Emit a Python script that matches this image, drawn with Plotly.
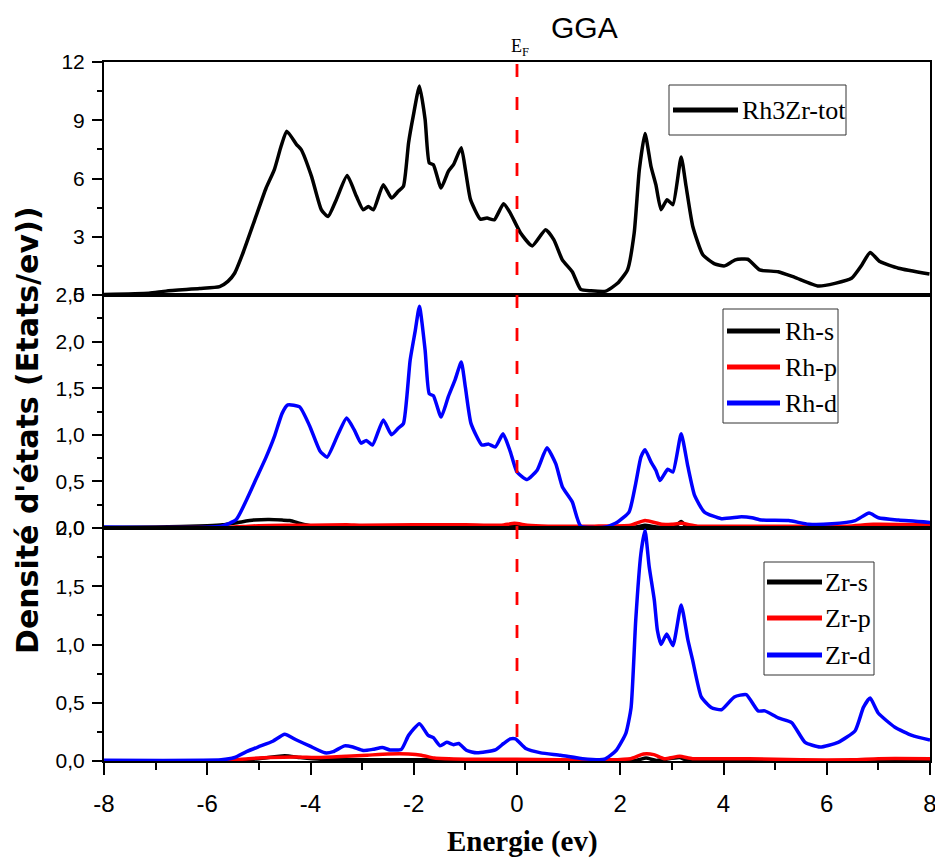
import plotly.graph_objects as go

# ---------------- data ----------------
e_tot = [-8.0, -7.13, -6.80, -6.15, -5.76, -5.6, -5.47, -5.31, -5.08, -4.86, -4.70, -4.57, -4.46,
         -4.27, -4.18, -3.98, -3.79, -3.66, -3.50, -3.29, -3.11, -2.98, -2.88, -2.78, -2.59, -2.43,
         -2.30, -2.20, -2.10, -2.01, -1.89, -1.78, -1.70, -1.62, -1.47, -1.33, -1.23, -1.08, -1.00,
         -0.90, -0.71, -0.58, -0.44, -0.26, -0.13, 0.07, 0.295, 0.554, 0.715, 0.878, 1.07, 1.234,
         1.43, 1.72, 1.947, 2.14, 2.27, 2.37, 2.48, 2.595, 2.69, 2.79, 2.906, 3.02, 3.18, 3.275,
         3.405, 3.60, 3.83, 4.02, 4.23, 4.47, 4.70, 5.06, 5.38, 5.84, 6.16, 6.48, 6.68, 6.84, 7.03,
         7.39, 7.99]
dos_tot = [0.03, 0.09, 0.2, 0.33, 0.43, 0.7, 1.12, 2.15, 3.87, 5.51, 6.46, 7.66, 8.44,
           7.75, 7.49, 6.11, 4.39, 4.04, 4.91, 6.15, 5.08, 4.39, 4.56, 4.39, 5.68, 4.99,
           5.34, 5.60, 7.84, 9.21, 10.76, 9.04, 6.80, 6.71, 5.51, 6.37, 6.71, 7.58, 6.46,
           4.91, 3.91, 3.96, 3.87, 4.70, 4.22, 3.19, 2.53, 3.36, 2.84, 1.81, 1.20, 0.29,
           0.22, 0.2, 0.6, 1.29, 3.19, 6.46, 8.32, 6.63, 5.68, 4.39, 4.91, 4.65, 7.11, 5.6,
           3.53, 2.07, 1.60, 1.50, 1.81, 1.84, 1.29, 1.20, 0.91, 0.46, 0.6, 0.86, 1.55, 2.19, 1.72,
           1.38, 1.08]

e_rh_d = [-8.0, -5.73, -5.44, -5.24, -5.05, -4.86, -4.70, -4.55, -4.44, -4.21, -4.02, -3.82, -3.68,
          -3.47, -3.30, -3.15, -3.02, -2.92, -2.80, -2.59, -2.43, -2.30, -2.20, -2.07, -1.97, -1.89,
          -1.78, -1.70, -1.62, -1.47, -1.33, -1.20, -1.08, -1.00, -0.89, -0.68, -0.55, -0.42, -0.27,
          -0.13, 0.0, 0.197, 0.39, 0.58, 0.75, 0.88, 1.07, 1.234, 1.72, 1.95, 2.17, 2.30, 2.40,
          2.48, 2.595, 2.69, 2.77, 2.92, 3.02, 3.18, 3.31, 3.44, 3.63, 3.96, 4.35, 4.55, 4.74,
          5.26, 5.65, 6.10, 6.55, 6.82, 7.0, 7.39, 8.0]
rh_d = [0.01, 0.02, 0.09, 0.30, 0.53, 0.76, 0.98, 1.23, 1.32, 1.30, 1.10, 0.83, 0.76,
        1.00, 1.18, 1.05, 0.91, 0.94, 0.89, 1.16, 1.00, 1.07, 1.12, 1.80, 2.12, 2.38,
        1.91, 1.44, 1.42, 1.19, 1.41, 1.59, 1.78, 1.51, 1.12, 0.89, 0.90, 0.87, 1.01,
        0.82, 0.60, 0.52, 0.62, 0.86, 0.69, 0.44, 0.28, 0.02, 0.01, 0.065, 0.17, 0.48, 0.76,
        0.84, 0.71, 0.62, 0.51, 0.63, 0.60, 1.01, 0.66, 0.35, 0.17, 0.10, 0.12, 0.11, 0.085,
        0.08, 0.04, 0.045, 0.08, 0.16, 0.11, 0.085, 0.06]

e_rh_s = [-8.0, -7.0, -6.0, -5.7, -5.4, -5.1, -4.8, -4.55, -4.4, -4.2, -4.0, -3.5, -2.0, -0.2, 0.0,
          0.3, 1.5, 2.3, 2.48, 2.7, 3.05, 3.18, 3.3, 4.0, 8.0]
rh_s = [0.005, 0.01, 0.025, 0.035, 0.06, 0.085, 0.09, 0.085, 0.08, 0.05, 0.025, 0.015, 0.01, 0.01, 0.02,
        0.01, 0.005, 0.01, 0.03, 0.01, 0.01, 0.07, 0.01, 0.005, 0.005]

e_rh_p = [-8.0, -5.7, -5.3, -5.0, -4.5, -4.0, -3.3, -3.0, -2.0, -1.0, -0.3, -0.05, 0.2, 0.6, 1.5,
          2.2, 2.48, 2.8, 3.0, 3.18, 3.5, 4.5, 6.4, 6.9, 8.0]
rh_p = [0.003, 0.005, 0.015, 0.025, 0.03, 0.03, 0.035, 0.03, 0.035, 0.035, 0.03, 0.05, 0.03, 0.02, 0.02,
        0.03, 0.08, 0.04, 0.04, 0.05, 0.02, 0.02, 0.02, 0.04, 0.035]

e_zr_d = [-8.0, -5.73, -5.47, -5.24, -5.02, -4.73, -4.50, -4.27, -4.02, -3.72, -3.56, -3.34, -3.18,
          -2.98, -2.79, -2.61, -2.46, -2.24, -2.10, -1.89, -1.72, -1.62, -1.49, -1.36, -1.23, -1.13,
          -0.97, -0.78, -0.42, -0.26, -0.13, -0.03, 0.17, 0.46, 0.846, 1.27, 1.69, 1.92, 2.11, 2.21,
          2.30, 2.40, 2.48, 2.56, 2.66, 2.72, 2.79, 2.90, 3.02, 3.18, 3.31, 3.40, 3.57, 3.76, 3.96,
          4.21, 4.44, 4.67, 4.80, 5.06, 5.32, 5.58, 5.87, 6.22, 6.55, 6.71, 6.84, 7.0, 7.32, 7.65, 8.0]
zr_d = [0.006, 0.01, 0.03, 0.08, 0.12, 0.17, 0.23, 0.18, 0.13, 0.07, 0.08, 0.13, 0.12,
        0.09, 0.10, 0.116, 0.095, 0.10, 0.22, 0.32, 0.22, 0.20, 0.13, 0.16, 0.14, 0.15,
        0.09, 0.07, 0.095, 0.15, 0.19, 0.19, 0.107, 0.07, 0.05, 0.02, 0.015, 0.09, 0.24, 0.46,
        1.21, 1.78, 1.98, 1.67, 1.38, 1.12, 1.00, 1.09, 0.99, 1.34, 1.04, 0.87, 0.55, 0.46, 0.44,
        0.55, 0.57, 0.43, 0.43, 0.37, 0.33, 0.16, 0.12, 0.16, 0.26, 0.46, 0.54, 0.41, 0.29, 0.22, 0.18]

e_zr_s = [-8.0, -5.6, -5.0, -4.5, -4.2, -3.8, -3.0, -1.5, 0.0, 2.3, 2.5, 2.7, 3.15, 3.3, 8.0]
zr_s = [0.002, 0.005, 0.02, 0.045, 0.03, 0.015, 0.01, 0.01, 0.01, 0.005, 0.025, 0.005, 0.03, 0.005, 0.003]

e_zr_p = [-8.0, -5.6, -5.2, -4.8, -4.3, -3.8, -3.3, -2.9, -2.5, -2.1, -1.85, -1.6, -1.0, 0.0, 0.8,
          1.8, 2.2, 2.45, 2.65, 2.85, 3.15, 3.4, 4.5, 5.5, 6.5, 7.0, 8.0]
zr_p = [0.002, 0.005, 0.02, 0.03, 0.035, 0.03, 0.04, 0.05, 0.06, 0.06, 0.05, 0.025, 0.015, 0.015, 0.01,
        0.01, 0.02, 0.06, 0.055, 0.02, 0.04, 0.02, 0.02, 0.01, 0.01, 0.02, 0.02]

x_tickvals = [-8, -6, -4, -2, 0, 2, 4, 6, 8]
x_ticktext = ["-8", "-6", "-4", "-2", "0", "2", "4", "6", "8"]
top_tickvals = [0, 3, 6, 9, 12]
top_ticktext = ["0", "3", "6", "9", "12"]
mid_tickvals = [0, 0.5, 1.0, 1.5, 2.0, 2.5]
mid_ticktext = ["0,0", "0,5", "1,0", "1,5", "2,0", "2,5"]
bot_tickvals = [0, 0.5, 1.0, 1.5, 2.0]
bot_ticktext = ["0,0", "0,5", "1,0", "1,5", "2,0"]

names_top = ["Rh3Zr-tot"]
names_mid = ["Rh-s", "Rh-p", "Rh-d"]
names_bot = ["Zr-s", "Zr-p", "Zr-d"]
colors = ["#000000", "#ff0000", "#0000ff"]

# ---------------- figure ----------------
W, H = 935, 859
L, R, T, B = 104, 930, 62, 761


def px(xp):
    return (xp - L) / (R - L)


def py(yp):
    return (B - yp) / (B - T)


fig = go.Figure()
lw = 3.5
sm = 0.5

fig.add_trace(go.Scatter(x=e_tot, y=dos_tot, mode="lines", name=names_top[0],
                         line=dict(color=colors[0], width=lw, shape="spline", smoothing=sm),
                         xaxis="x", yaxis="y", showlegend=False))
for e, v, n, c in zip([e_rh_s, e_rh_p, e_rh_d], [rh_s, rh_p, rh_d], names_mid, colors):
    fig.add_trace(go.Scatter(x=e, y=v, mode="lines", name=n,
                             line=dict(color=c, width=lw, shape="spline", smoothing=sm),
                             xaxis="x2", yaxis="y2", showlegend=False))
for e, v, n, c in zip([e_zr_s, e_zr_p, e_zr_d], [zr_s, zr_p, zr_d], names_bot, colors):
    fig.add_trace(go.Scatter(x=e, y=v, mode="lines", name=n,
                             line=dict(color=c, width=lw, shape="spline", smoothing=sm),
                             xaxis="x3", yaxis="y3", showlegend=False))

tickfont_y = dict(family="Liberation Sans, Arial", size=21, color="black")
tickfont_x = dict(family="Liberation Sans, Arial", size=24, color="black")

common_x = dict(range=[-8, 8], showline=True, linecolor="black", linewidth=2, mirror=True,
                showgrid=False, zeroline=False, automargin=False)
common_y = dict(showline=True, linecolor="black", linewidth=2, mirror=True, showgrid=False,
                zeroline=False, ticks="outside", ticklen=10, tickwidth=1.5, tickcolor="black",
                tickfont=tickfont_y, ticklabelstandoff=3, automargin=False)

h3 = 1 / 3
fig.update_layout(
    width=W, height=H,
    margin=dict(l=L, r=W - R, t=T, b=H - B, autoexpand=False),
    paper_bgcolor="white", plot_bgcolor="white",
    showlegend=False,
    xaxis=dict(**common_x, domain=[0, 1], anchor="y", matches="x3", showticklabels=False, ticks=""),
    xaxis2=dict(**common_x, domain=[0, 1], anchor="y2", matches="x3", showticklabels=False, ticks=""),
    xaxis3=dict(**common_x, domain=[0, 1], anchor="y3", ticks="outside", ticklen=12, tickwidth=1.5,
                tickcolor="black", tickvals=x_tickvals, ticktext=x_ticktext, tickfont=tickfont_x,
                ticklabelstandoff=8, ticklabeloverflow="allow",
                minor=dict(ticks="outside", ticklen=7, tickwidth=1.5, tickcolor="black", dtick=1, tick0=0)),
    yaxis=dict(**common_y, domain=[2 * h3, 1], anchor="x", range=[0, 12],
               tickvals=top_tickvals, ticktext=top_ticktext,
               minor=dict(ticks="outside", ticklen=5, tickwidth=1.5, tickcolor="black", dtick=1.5, tick0=0)),
    yaxis2=dict(**common_y, domain=[h3, 2 * h3], anchor="x2", range=[0, 2.5],
                tickvals=mid_tickvals, ticktext=mid_ticktext,
                minor=dict(ticks="outside", ticklen=5, tickwidth=1.5, tickcolor="black", dtick=0.25, tick0=0)),
    yaxis3=dict(**common_y, domain=[0, h3], anchor="x3", range=[0, 2.0],
                tickvals=bot_tickvals, ticktext=bot_ticktext,
                minor=dict(ticks="outside", ticklen=5, tickwidth=1.5, tickcolor="black", dtick=0.25, tick0=0)),
)

shapes = []
# Fermi level dashed line
shapes.append(dict(type="line", xref="x3", yref="paper", x0=0, x1=0, y0=py(64), y1=py(748),
                   line=dict(color="#ff0000", width=2.8, dash="13px,20px")))

annotations = []


def add_legend(box, line_x, text_x, rows, names):
    x0, x1, y0, y1 = box
    shapes.append(dict(type="rect", xref="paper", yref="paper", x0=px(x0), x1=px(x1), y0=py(y1), y1=py(y0),
                       line=dict(color="#333333", width=1), fillcolor="rgba(255,255,255,0)"))
    for yr, n, c in zip(rows, names, colors if len(names) > 1 else ["#000000"]):
        shapes.append(dict(type="line", xref="paper", yref="paper", x0=px(line_x[0]), x1=px(line_x[1]),
                           y0=py(yr), y1=py(yr), line=dict(color=c, width=5)))
        annotations.append(dict(xref="paper", yref="paper", x=px(text_x), y=py(yr), text=n,
                                showarrow=False, xanchor="left", yanchor="middle",
                                font=dict(family="Liberation Serif, Times New Roman", size=26, color="black")))


add_legend((669, 846, 85, 135), (673, 738), 740, [110], names_top)
add_legend((723, 838, 309, 423), (727, 780), 783, [331, 367, 403], names_mid)
add_legend((764, 874, 562, 675), (767, 822), 823, [582, 618, 655], names_bot)

annotations.append(dict(xref="paper", yref="paper", x=px(584), y=py(28), text="GGA", showarrow=False,
                        xanchor="center", yanchor="middle",
                        font=dict(family="Liberation Sans, Arial", size=30, color="black")))
annotations.append(dict(xref="paper", yref="paper", x=px(520), y=py(48), text="E<sub>F</sub>", showarrow=False,
                        xanchor="center", yanchor="middle",
                        font=dict(family="Liberation Serif, Times New Roman", size=18, color="black")))
annotations.append(dict(xref="paper", yref="paper", x=px(522), y=py(842), text="<b>Energie (ev)</b>",
                        showarrow=False, xanchor="center", yanchor="middle",
                        font=dict(family="Liberation Serif, Times New Roman", size=29, color="black")))
annotations.append(dict(xref="paper", yref="paper", x=px(27), y=py(431),
                        text="<b>Densité d'états (Etats/ev))</b>", textangle=-90, showarrow=False,
                        xanchor="center", yanchor="middle",
                        font=dict(family="DejaVu Sans", size=30, color="black")))

fig.update_layout(shapes=shapes, annotations=annotations)
fig.write_html("out.html")
